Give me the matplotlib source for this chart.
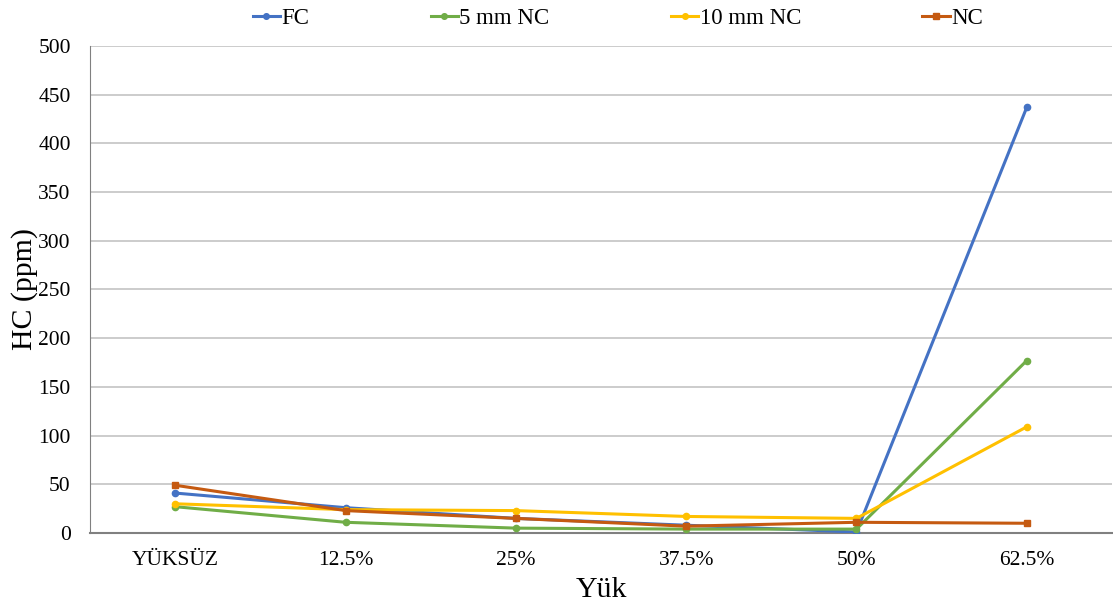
"""
HC emission vs load: FC and NC variants (line chart, Excel-like styling).
"""
import matplotlib.pyplot as plt

# Data
LOADS = ["YÜKSÜZ", "12.5%", "25%", "37.5%", "50%", "62.5%"]
HC_FC = [41, 26, 15, 8, 1, 437]
HC_5MM_NC = [27, 11, 5, 4, 4, 177]
HC_10MM_NC = [30, 24, 23, 17, 15, 109]
HC_NC = [49, 23, 15, 7, 11, 10]

SERIES = [
    ("FC", HC_FC, "#4472C4", "o"),
    ("5 mm NC", HC_5MM_NC, "#70AD47", "o"),
    ("10 mm NC", HC_10MM_NC, "#FFC000", "o"),
    ("NC", HC_NC, "#C55A11", "s"),
]

plt.rcParams["font.family"] = ["Liberation Serif", "DejaVu Serif"]

fig = plt.figure(figsize=(11.13, 6.05), dpi=100)
ax = fig.add_axes([0.081, 0.119, 0.918, 0.805])

x = list(range(len(LOADS)))
for name, vals, color, marker in SERIES:
    ax.plot(
        x,
        vals,
        color=color,
        linewidth=2.2,
        marker=marker,
        markersize=4.5 if marker == "o" else 5,
        label=name,
        zorder=3,
    )

ax.set_xlim(-0.5, len(LOADS) - 0.5)
ax.set_ylim(0, 500)
ax.set_yticks(range(0, 501, 50))
ax.set_xticks(x)
ax.set_xticklabels(LOADS)
ax.tick_params(axis="both", labelsize=15.5, length=0, colors="black")
ax.tick_params(axis="x", pad=13)
ax.tick_params(axis="y", pad=14)

ax.grid(True, axis="y", color="#BFBFBF", linewidth=1.1, zorder=0)
ax.set_axisbelow(True)
for side in ["top", "right"]:
    ax.spines[side].set_visible(False)
ax.spines["left"].set_color("#808080")
ax.spines["bottom"].set_color("#808080")
ax.spines["bottom"].set_linewidth(1.5)

ax.set_ylabel("HC (ppm)", fontsize=21.5)
ax.yaxis.set_label_coords(-0.064, 0.5)
ax.yaxis.label.set_va("center")
ax.set_xlabel("Yük", fontsize=21.5)
ax.xaxis.set_label_coords(0.5, -0.117)
ax.xaxis.label.set_va("center")

fig.legend(
    loc="center",
    bbox_to_anchor=(0.555, 0.970),
    ncol=4,
    frameon=False,
    fontsize=16.5,
    handlelength=1.2,
    handletextpad=0.05,
    columnspacing=5.3,
    markerscale=0.9,
)

fig.savefig("out.png", dpi=100)
